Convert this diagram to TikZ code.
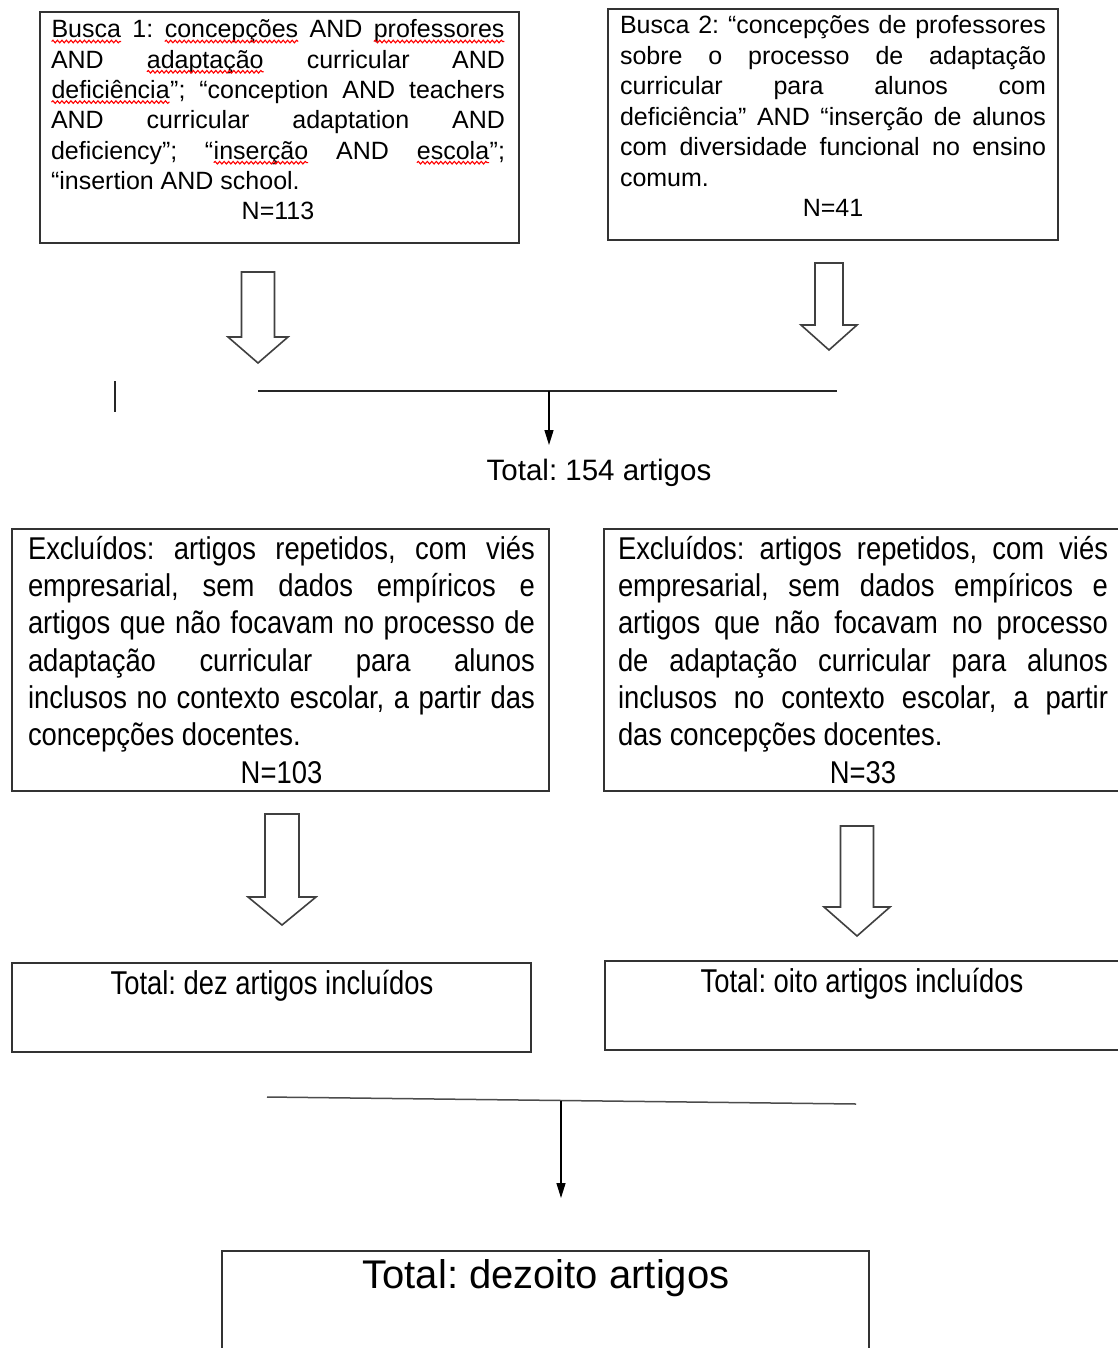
\documentclass[tikz,border=0pt]{standalone}
\usepackage{fontspec}
\setmainfont{Liberation Sans}
\newfontfamily\fN{Liberation Sans}[FakeStretch=0.87]
\newfontfamily\fM{Liberation Sans}[FakeStretch=0.83]
\usetikzlibrary{arrows.meta,decorations.pathmorphing}
\frenchspacing

\newcommand\JL[1]{\hbox to\hsize{#1}}
\newcommand\LL[1]{\hbox to\hsize{#1\hfil}}
\newcommand\CL[1]{\hbox to\hsize{\hfil#1\hfil}}
\newcommand\TB[3]{\vtop{\hsize=#1pt\baselineskip=#2pt\lineskiplimit=-100pt\lineskip=0pt #3}}
\newcommand\sq[1]{\tikz[baseline=(w.base)]{\node[inner sep=0pt,outer sep=0pt,anchor=base](w){#1};\draw[red,line width=1.1pt,decorate,decoration={snake,amplitude=1.3pt,segment length=4.5pt}]([yshift=-3.5pt]w.base west)--([yshift=-3.5pt]w.base east);}}
\newcommand\BA[7]{\draw[blockarrow] ({#2-#6},#3) -- ({#2+#6},#3) -- ({#2+#6},#4) -- ({#2+#7},#4) -- (#2,#5) -- ({#2-#7},#4) -- ({#2-#6},#4) -- cycle;\coordinate (#1) at (#2,#5);}

\tikzset{
  box/.style={draw=black!80, line width=1.6pt, inner sep=0pt, anchor=north west},
  txt/.style={inner sep=0pt, outer sep=0pt, anchor=base west},
  ctxt/.style={inner sep=0pt, outer sep=0pt, anchor=base},
  blockarrow/.style={draw=black!75, line width=1.6pt, line join=miter},
  plain/.style={draw=black!85, line width=1.5pt},
  conn/.style={draw=black, line width=1.4pt, -{Triangle[length=15pt,width=9pt]}},
}

\begin{document}
\begin{tikzpicture}[x=1pt,y=-1pt]
\fill[white] (0,0) rectangle (1117,1348);
\useasboundingbox (0,0) rectangle (1117,1348);

% boxes
\node[box, minimum width=479pt, minimum height=231pt] (b1) at (39,11) {};
\node[box, minimum width=450pt, minimum height=231pt] (b2) at (607,8) {};
\node[box, minimum width=537pt, minimum height=262pt] (b3) at (11,528) {};
\node[box, minimum width=518pt, minimum height=262pt] (b4) at (603,528) {};
\node[box, minimum width=519pt, minimum height=89pt] (b5) at (11,962) {};
\node[box, minimum width=517pt, minimum height=89pt] (b6) at (604,960) {};
\node[box, minimum width=647pt, minimum height=115pt] (b7) at (221,1250) {};

% texts
\node[txt] (t1) at (51,38) {\fontsize{25}{30.3}\selectfont\TB{454}{30.3}{%
\JL{\sq{Busca} 1: \sq{concepções} AND \sq{professores}}
\JL{AND \sq{adaptação} curricular AND}
\JL{\sq{deficiência}”; “conception AND teachers}
\JL{AND curricular adaptation AND}
\JL{deficiency”; “\sq{inserção} AND \sq{escola}”;}
\LL{“insertion AND school.}
\CL{N=113}}};

\node[txt] (t2) at (620,34) {\fontsize{25}{30.5}\selectfont\TB{426}{30.5}{%
\JL{Busca 2: “concepções de professores}
\JL{sobre o processo de adaptação}
\JL{curricular para alunos com}
\JL{deficiência” AND “inserção de alunos}
\JL{com diversidade funcional no ensino}
\LL{comum.}
\CL{N=41}}};

\node[txt] (t3) at (28,559.3) {\fN\fontsize{31.5}{37.3}\selectfont\TB{507}{37.3}{%
\JL{Excluídos: artigos repetidos, com viés}
\JL{empresarial, sem dados empíricos e}
\JL{artigos que não focavam no processo de}
\JL{adaptação curricular para alunos}
\JL{inclusos no contexto escolar, a partir das}
\LL{concepções docentes.}
\CL{N=103}}};

\node[txt] (t4) at (618,559.3) {\fN\fontsize{31.5}{37.3}\selectfont\TB{490}{37.3}{%
\JL{Excluídos: artigos repetidos, com viés}
\JL{empresarial, sem dados empíricos e}
\JL{artigos que não focavam no processo}
\JL{de adaptação curricular para alunos}
\JL{inclusos no contexto escolar, a partir}
\LL{das concepções docentes.}
\CL{N=33}}};

\node[ctxt, font=\fontsize{29.5}{34}\selectfont] (tot1) at (599,480) {Total: 154 artigos};
\node[ctxt, font=\fM\fontsize{33}{38}\selectfont] (t5) at (272,994) {Total: dez artigos incluídos};
\node[ctxt, font=\fM\fontsize{33}{38}\selectfont] (t6) at (862,992) {Total: oito artigos incluídos};
\node[ctxt, font=\fontsize{40}{46}\selectfont] (t7) at (546,1288) {Total: dezoito artigos};

% block arrows
\BA{a1}{258}{272}{337}{363}{16.5}{30}
\BA{a2}{829}{263}{325}{350}{14}{28}
\BA{a3}{282}{814}{897}{925}{17}{34}
\BA{a4}{857}{826}{907}{936}{16.5}{33}

% first junction
\coordinate (h1a) at (258,391);
\coordinate (h1b) at (837,391);
\coordinate (h1m) at (549,391);
\coordinate (h1t) at (549,445);
\draw[plain] (h1a) -- (h1b);
\draw[conn] (h1m) -- (h1t);

% stray mark
\coordinate (s1) at (115,381);
\coordinate (s2) at (115,412);
\draw[draw=black!85, line width=1.4pt] (s1) -- (s2);

% second junction
\coordinate (h2a) at (267,1097);
\coordinate (h2b) at (856,1104);
\coordinate (h2m) at (561,1100.5);
\coordinate (h2t) at (561,1198);
\draw[plain, draw=black!70] (h2a) -- (h2b);
\draw[conn] (h2m) -- (h2t);
\end{tikzpicture}
\end{document}
